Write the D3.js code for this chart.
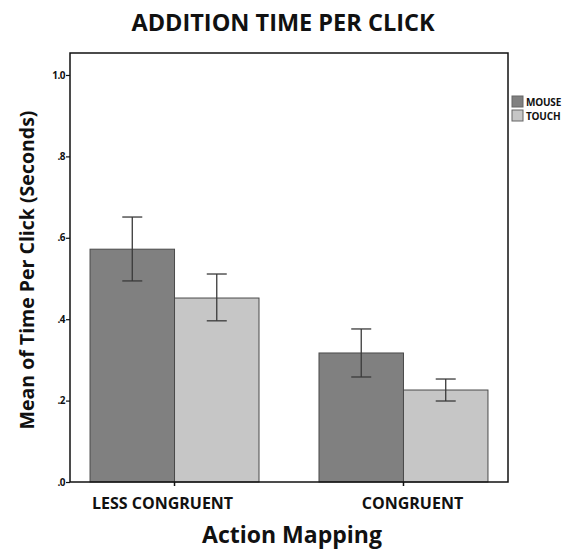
<!DOCTYPE html>
<html>
<head>
<meta charset="utf-8">
<script src="https://cdn.jsdelivr.net/npm/d3@7"></script>
<style>
  body { margin: 0; background: #fff; }
  svg { display: block; font-family: "Open Sans", sans-serif; }
</style>
</head>
<body>
<div id="chart"></div>
<script>
// Data
const categories = ['LESS CONGRUENT', 'CONGRUENT'];
const seriesNames = ['MOUSE', 'TOUCH'];
const mouseMeans = [0.572, 0.317];
const touchMeans = [0.452, 0.226];
const mouseLow = [0.494, 0.258];
const mouseHigh = [0.651, 0.376];
const touchLow = [0.396, 0.199];
const touchHigh = [0.511, 0.253];
const yTicks = [0, 0.2, 0.4, 0.6, 0.8, 1.0];
const yTickLabels = ['.0', '.2', '.4', '.6', '.8', '1.0'];

const width = 579, height = 550;
const margin = { top: 53, right: 71, bottom: 68, left: 70 };
const plotW = width - margin.left - margin.right;
const plotH = height - margin.top - margin.bottom;

const colors = { MOUSE: '#808080', TOUCH: '#c6c6c6' };
// the source chart nudges its category labels a little off the tick
const labelShift = [-12, 9];

const svg = d3.select('#chart').append('svg')
    .attr('width', width)
    .attr('height', height);

const g = svg.append('g')
    .attr('transform', `translate(${margin.left},${margin.top})`);

// Scales
const x = d3.scaleBand()
    .domain(categories)
    .range([0, plotW])
    .paddingInner(0.262)
    .paddingOuter(0.0875);

const xSub = d3.scaleBand()
    .domain(seriesNames)
    .range([0, x.bandwidth()]);

const y = d3.scaleLinear()
    .domain([0, 1.054])
    .range([plotH, 0]);

// Rows for bars
const rows = [];
categories.forEach((c, i) => {
    rows.push({ cat: c, series: 'MOUSE', mean: mouseMeans[i], lo: mouseLow[i], hi: mouseHigh[i] });
    rows.push({ cat: c, series: 'TOUCH', mean: touchMeans[i], lo: touchLow[i], hi: touchHigh[i] });
});

// Bars
g.selectAll('rect.bar')
    .data(rows)
    .join('rect')
    .attr('class', 'bar')
    .attr('x', d => x(d.cat) + xSub(d.series))
    .attr('y', d => y(d.mean))
    .attr('width', xSub.bandwidth())
    .attr('height', d => y(0) - y(d.mean))
    .attr('fill', d => colors[d.series])
    .attr('stroke', '#4a4a4a')
    .attr('stroke-width', 1);

// Error bars
const capW = 10;
const err = g.selectAll('g.err')
    .data(rows)
    .join('g')
    .attr('class', 'err')
    .attr('transform', d => `translate(${x(d.cat) + xSub(d.series) + xSub.bandwidth() / 2},0)`)
    .attr('stroke', '#3a3a3a')
    .attr('stroke-width', 1.3);

err.append('line')
    .attr('y1', d => y(d.lo)).attr('y2', d => y(d.hi));
err.append('line')
    .attr('x1', -capW).attr('x2', capW)
    .attr('y1', d => y(d.hi)).attr('y2', d => y(d.hi));
err.append('line')
    .attr('x1', -capW).attr('x2', capW)
    .attr('y1', d => y(d.lo)).attr('y2', d => y(d.lo));

// Frame
g.append('rect')
    .attr('width', plotW)
    .attr('height', plotH)
    .attr('fill', 'none')
    .attr('stroke', '#111')
    .attr('stroke-width', 1.5);

// Y axis
const yAxis = g.append('g')
    .call(d3.axisLeft(y)
        .tickValues(yTicks)
        .tickSize(4)
        .tickFormat((d, i) => yTickLabels[i]));
yAxis.select('.domain').remove();
yAxis.selectAll('line').attr('stroke', '#111').attr('stroke-width', 1.2);
yAxis.selectAll('text')
    .attr('x', -5)
    .style('font-family', '"Open Sans", sans-serif')
    .style('font-size', '10px')
    .style('font-weight', 'bold')
    .style('letter-spacing', '-0.5px')
    .attr('fill', '#111');

// X axis
const xAxis = g.append('g')
    .attr('transform', `translate(0,${plotH})`)
    .call(d3.axisBottom(x).tickSize(4).tickPadding(12));
xAxis.select('.domain').remove();
xAxis.selectAll('line').attr('stroke', '#111').attr('stroke-width', 1.5);
xAxis.selectAll('text')
    .attr('dx', (d, i) => labelShift[i])
    .style('font-family', '"Open Sans", sans-serif')
    .style('font-size', '16px')
    .style('font-weight', 'bold')
    .attr('fill', '#111');

// Title
svg.append('text')
    .attr('x', 283)
    .attr('y', 31)
    .attr('text-anchor', 'middle')
    .style('font-size', '23.5px')
    .style('font-weight', 'bold')
    .attr('fill', '#111')
    .text('ADDITION TIME PER CLICK');

// Axis labels
svg.append('text')
    .attr('transform', `translate(34,${270}) rotate(-90)`)
    .attr('text-anchor', 'middle')
    .style('font-size', '19.5px')
    .style('font-weight', 'bold')
    .attr('fill', '#111')
    .text('Mean of Time Per Click (Seconds)');

svg.append('text')
    .attr('x', 292)
    .attr('y', 543)
    .attr('text-anchor', 'middle')
    .style('font-size', '23px')
    .style('font-weight', 'bold')
    .attr('fill', '#111')
    .text('Action Mapping');

// Legend
const legend = svg.append('g')
    .attr('transform', 'translate(512,96)');
const li = legend.selectAll('g')
    .data(seriesNames)
    .join('g')
    .attr('transform', (d, i) => `translate(0,${i * 14})`);
li.append('rect')
    .attr('width', 11)
    .attr('height', 11)
    .attr('fill', d => colors[d])
    .attr('stroke', '#666')
    .attr('stroke-width', 1);
li.append('text')
    .attr('x', 14)
    .attr('y', 9.5)
    .style('font-size', '10px')
    .style('font-weight', 'bold')
    .style('letter-spacing', '-0.2px')
    .attr('fill', '#111')
    .text(d => d);
</script>
</body>
</html>
